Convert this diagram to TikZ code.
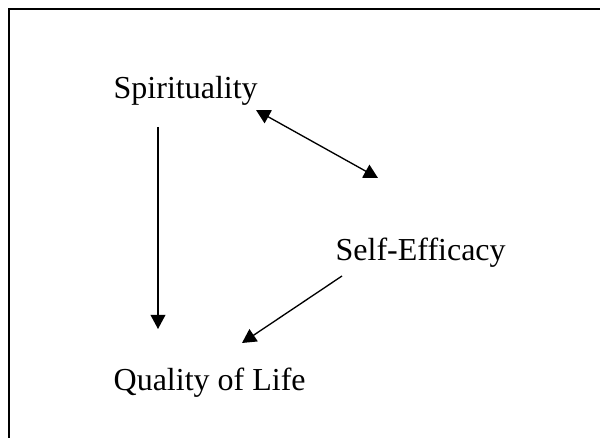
\documentclass[tikz,border=0pt]{standalone}
\usepackage{fontspec}
\setmainfont{Liberation Serif}
\usetikzlibrary{arrows.meta}

\begin{document}
\begin{tikzpicture}[x=0.75pt, y=-0.75pt, line width=1pt,
    >={Triangle[length=10.5pt, width=11pt]},
    concept/.style={anchor=base west, inner sep=0pt, font=\fontsize{24}{28}\selectfont}]
    \useasboundingbox (0, 0) rectangle (600, 438);
    \draw[line width=1.5pt] (9, 438)
    -- (9, 9)
    -- (600, 9);

    \node[concept] (spi) at (113, 99) {Spirituality};
    \node[concept] (eff) at (335, 261) {Self-Efficacy};
    \node[concept] (qol) at (113, 390) {Quality of Life};

    \coordinate (a1) at (158, 127);
    \coordinate (a2) at (158, 329);

    \coordinate (b1) at (256, 110);
    \coordinate (b2) at (378, 178);

    \coordinate (c1) at (342, 276);
    \coordinate (c2) at (242, 343);

    \draw[->] (a1)
    -- (a2);

    \draw[<->] (b1)
    -- (b2);

    \draw[->] (c1)
    -- (c2);

  \end{tikzpicture}
\end{document}
